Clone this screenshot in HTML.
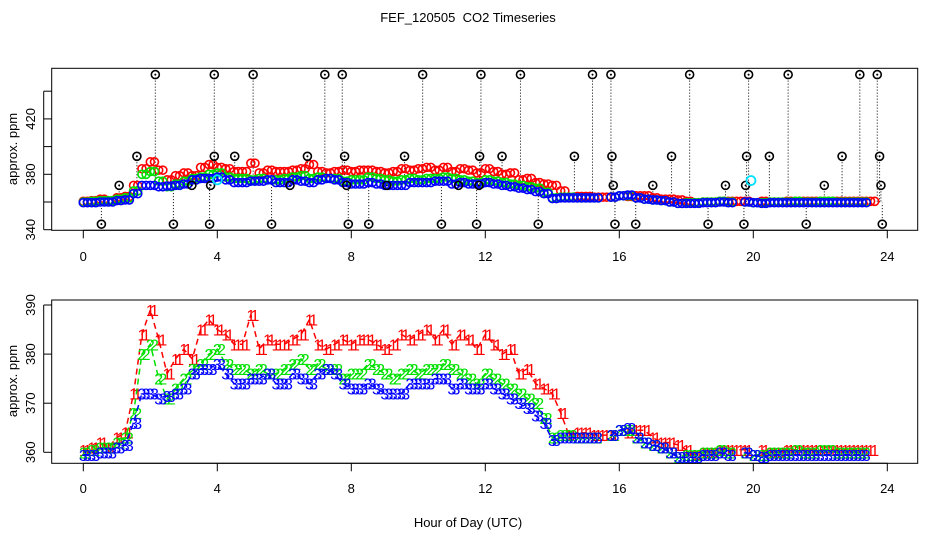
<!DOCTYPE html>
<html><head><meta charset="utf-8"><style>
html,body{margin:0;padding:0;background:#fff}
svg{display:block;font-family:"Liberation Sans",sans-serif}
</style></head><body>
<svg id="chart" width="936" height="540" viewBox="0 0 936 540">
<rect width="936" height="540" fill="#fff"/>
<text x="468" y="22" font-size="13" text-anchor="middle" style="white-space:pre">FEF_120505  CO2 Timeseries</text>
<text x="468" y="527" font-size="13" text-anchor="middle">Hour of Day (UTC)</text>
<g id="topPanel"></g>
<g id="botPanel"></g>
</svg>
<script>
// Series values sampled every 0.25 h (hour = index * 0.25); null = gap
const red = [360.5,361,362,361,363,364,372,384,389,383,376,379,381,379,385,387,385,384,382,382,388,381,383,382,382,383,384,387,382,381,382,383,382,383,383,382,381,382,384,383,384,385,383,385,382,384,383,381,384,382,380,381,376,377,374,373,372,368,363.5,364,364,363.5,363.5,363.5,null,364,364.5,364.5,363,362,362,361.5,360.5,359.5,360,360,360.5,360.5,360.5,360.5,null,360.5,360,360,360.5,360.5,360.5,360.5,360.5,360.5,360.5,360.5,360.5,360.5,360.5];
const green = [360,360.5,361,361,362,363,368,380,382,375,371,373,375,377,378,380,381,378,377,377,376,377,376,376,377,378,379,377,378,377,377,375,376,376,378,377,376,375,376,377,376,377,377,378,377,376,375,374,376,375,374,373,372,371,370,367,363,363.5,363.5,363,363,363,null,363.5,364.5,364.5,363,362,361.5,361,360,359,359.5,359.5,360,360,360.5,360,null,360,359.5,359.5,360,360,360,360.5,360,360,360.5,360.5,360,360,360,360];
const blue = [359.5,359.5,360,360,361,361.5,366,372,372,371,371.5,372,373,376,377,377,378,376,374,374,375,375,376,374,374,376,375,374,376,377,376,374,373,373,374,373,372,372,372,374,374,374,375,375,373,374,373,373,374,373,372,371,370,369,367.5,366,362.5,363,363,363,363,363,null,363.5,364.5,365,363,362,361.5,361,360,359,359,359,359.5,359.5,360,359.5,null,360,359.5,359,359.5,359.5,359.5,359.5,359.5,359.5,359.5,359.5,359.5,359.5,359.5,359.5];
// Black outlier points (top panel)
const outHours = [2.15,3.91,5.07,7.21,7.73,10.13,11.87,13.05,15.2,15.75,18.1,19.86,21.04,23.18,23.7,
  1.6,3.91,4.52,6.69,7.8,9.59,11.83,12.5,14.66,15.78,17.56,19.8,20.48,22.65,23.77,
  1.07,3.24,3.8,6.17,7.86,9.06,11.2,11.81,15.82,17.0,19.17,19.77,22.12,23.81,
  0.54,2.69,3.77,5.62,7.91,8.52,10.69,11.74,13.58,15.87,16.49,18.65,19.72,21.58,23.85];
const outValues = [452,452,452,452,452,452,452,452,452,452,452,452,452,452,452,
  393,393,393,393,393,393,393,393,393,393,393,393,393,393,393,
  372,372,372,372,372,372,372,372,372,372,372,372,372,372,
  344,344,344,344,344,344,344,344,344,344,344,344,344,344,344];
const cyanHours = [4.0, 19.93];
const cyanValues = [376, 375.5];
const xTicks = [0,4,8,12,16,20,24];
const topTicks = [340,360,380,400,420,440];
const topTickLabels = ["340","","380","","420",""];
const botTicks = [360,370,380,390];

const NS = "http://www.w3.org/2000/svg";
const X = h => 83.3 + h*33.5;
const Yt = v => 229.7 - (v-340)*1.385;
const Yb = v => 452.3 - (v-360)*4.91;
function mk(tag, attrs, parent){const e=document.createElementNS(NS,tag);for(const k in attrs)e.setAttribute(k,attrs[k]);parent.appendChild(e);return e;}
const topG=document.getElementById('topPanel'), botG=document.getElementById('botPanel');

function frame(g, y0, y1, ticks, labels, Y, labelY, ylabelY, prefix){
  const r=mk('rect',{x:51.7,y:y0,width:866,height:y1-y0,fill:'none',stroke:'#000','stroke-width':1},g);
  
  
  const xa=mk('g',{},g);
  
  
  mk('line',{x1:X(0),x2:X(24),y1:y1,y2:y1,stroke:'#000'},xa);
  xTicks.forEach(t=>{
    mk('line',{x1:X(t),x2:X(t),y1:y1,y2:y1+8,stroke:'#000'},xa);
    const tx=mk('text',{x:X(t),y:labelY,'font-size':13,'text-anchor':'middle'},xa);
    tx.textContent=t;
    
    
  });
  const ya=mk('g',{},g);
  
  
  mk('line',{x1:43.7,x2:43.7,y1:Y(ticks[0]),y2:Y(ticks[ticks.length-1]),stroke:'#000'},ya);
  ticks.forEach((t,i)=>{
    mk('line',{x1:43.7,x2:51.7,y1:Y(t),y2:Y(t),stroke:'#000'},ya);
    if(labels[i]){
      const tx=mk('text',{x:0,y:0,'font-size':13,'text-anchor':'middle',transform:`translate(35,${Y(t)}) rotate(-90)`},ya);
      tx.textContent=labels[i];
      
      
    }
  });
  const yt=mk('text',{x:0,y:0,'font-size':13,'text-anchor':'middle',transform:`translate(17,${ylabelY}) rotate(-90)`},g);
  yt.textContent='approx. ppm';
  
  
}
frame(topG,68.3,230.3,topTicks,topTickLabels,Yt,261,149,'top');
frame(botG,300,463.3,botTicks,botTicks.map(String),Yb,493,381,'bottom');

outHours.forEach((h,i)=>{
  const idx=Math.min(blue.length-1,Math.round(h/0.25));
  let base=blue[idx]; if(base==null) base=360;
  mk('line',{x1:X(h),x2:X(h),y1:Yt(outValues[i]),y2:Yt(base),stroke:'#000','stroke-width':1,'stroke-dasharray':'1,2'},topG);
});
function circles(arr,color,name){
  const g=mk('g',{},topG);
  
  
  arr.forEach((v,i)=>{ if(v==null) return;
    mk('circle',{cx:X(i*0.25),cy:Yt(v),r:4,fill:'none',stroke:color,'stroke-width':1.6},g);
    mk('circle',{cx:X(i*0.25+0.125),cy:Yt(v),r:4,fill:'none',stroke:color,'stroke-width':1.6},g);
  });
}
circles(red,'#ff0000','top-series-1');
circles(green,'#00e000','top-series-2');
circles(blue,'#0000ff','top-series-3');
const og=mk('g',{},topG);


outHours.forEach((h,i)=>{
  mk('circle',{cx:X(h),cy:Yt(outValues[i]),r:4,fill:'none',stroke:'#000','stroke-width':1.6},og);
  mk('circle',{cx:X(h),cy:Yt(outValues[i]),r:1,fill:'#000'},og);
});
cyanHours.forEach((h,i)=>{
  const c=mk('circle',{cx:X(h),cy:Yt(cyanValues[i]),r:4.5,fill:'none',stroke:'#00e0ff','stroke-width':1.8},topG);
  
  
});

function digits(arr,color,ch,name){
  const g=mk('g',{},botG);
  
  
  let d='',pen=false;
  arr.forEach((v,i)=>{ if(v==null){pen=false;return;}
    d+=(pen?'L':'M')+X(i*0.25).toFixed(1)+','+Yb(v).toFixed(1); pen=true; });
  mk('path',{d:d,fill:'none',stroke:color,'stroke-width':1.5,'stroke-dasharray':'6,4'},g);
  arr.forEach((v,i)=>{ if(v==null) return;
    [0,0.125].forEach(o=>{
      const t=mk('text',{x:X(i*0.25+o),y:Yb(v)+6,'font-size':16,'text-anchor':'middle',fill:color},g);
      t.textContent=ch;
    });
  });
}
digits(red,'#ff0000','1','bottom-series-1');
digits(green,'#00e000','2','bottom-series-2');
digits(blue,'#0000ff','3','bottom-series-3');
</script>
</body></html>
